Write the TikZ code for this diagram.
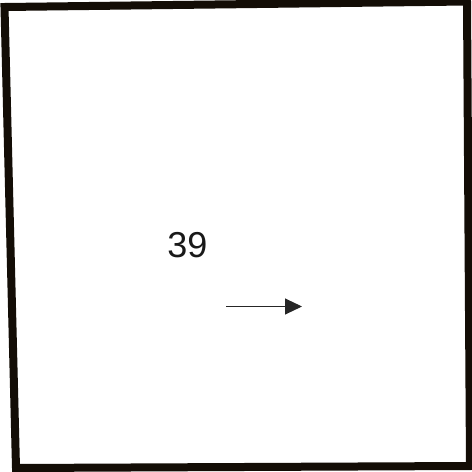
\documentclass[tikz,border=0pt]{standalone}
\usepackage{fontspec}
\setmainfont{Liberation Sans}
\usetikzlibrary{arrows.meta}
\tikzset{
  frame/.style={draw=black!90!brown, line width=8pt, line join=miter},
  label39/.style={font=\fontsize{36}{40}\selectfont, inner sep=0pt, text=black!90},
  arr/.style={draw=black!85, line width=1pt, -{Triangle[length=17pt,width=16pt]}}
}
\begin{document}
\begin{tikzpicture}[x=1pt,y=-1pt]
\useasboundingbox[fill=white] (0,0) rectangle (472,472);
\coordinate (tl) at (4.5,7);
\coordinate (tr) at (467,1.5);
\coordinate (br) at (470,466);
\coordinate (bl) at (16,468);
\draw[frame] (tl) -- (tr) -- (br) -- (bl) -- cycle;
\node[label39] (num) at (187.5,245) {39};
\coordinate (a1) at (226,306.5);
\coordinate (a2) at (302,306.5);
\draw[arr] (a1) -- (a2);
\end{tikzpicture}
\end{document}
